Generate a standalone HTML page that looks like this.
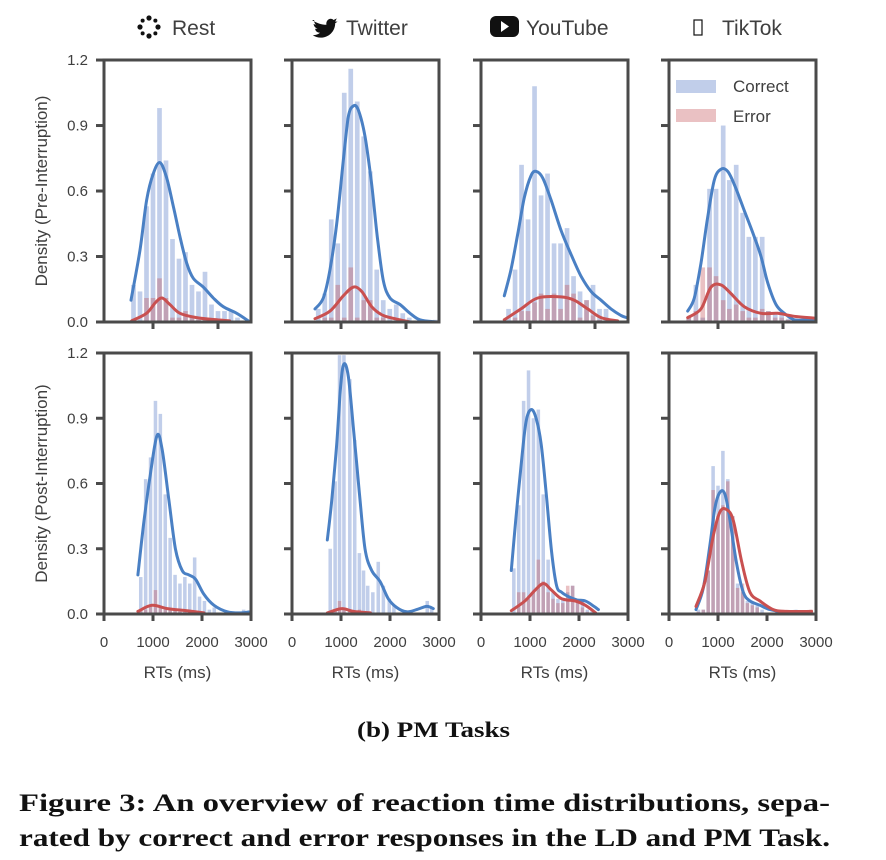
<!DOCTYPE html>
<html><head><meta charset="utf-8"><style>
html,body{margin:0;padding:0;background:#fff;width:886px;height:860px;overflow:hidden}
svg{display:block}
text{font-family:"Liberation Sans",sans-serif;fill:#3f3f3f}
.serif{font-family:"Liberation Serif",serif;font-weight:bold;fill:#111}
</style></head><body>
<svg id="chart" width="886" height="860" viewBox="0 0 886 860"></svg>
<script>
// ---------- data ----------
// Row 1 (Pre-Interruption)
const r1c1Bins=[700,800,900,1000,1100,1200,1300,1400,1500,1600,1700,1800,1900,2000,2100,2200,2300];
const r1c1Correct=[0.17,0.14,0.53,0.68,0.98,0.74,0.38,0.29,0.32,0.17,0.14,0.23,0.08,0.05,0.05,0.05,0.02];
const r1c1Error=[0,0,0.11,0.11,0.2,0.11,0.02,0.02,0.05,0.02,0.01,0.01,0,0,0,0,0];
const r1c1KdeX=[662,800,903,1005,1108,1210,1313,1415,1518,1620,1774,1928,2082,2287,2466];
const r1c1KdeC=[0.10,0.33,0.56,0.68,0.73,0.66,0.53,0.39,0.27,0.20,0.16,0.11,0.07,0.04,0.005];
const r1c1ErrX=[670,900,1040,1140,1260,1415,1670,1980,2180];
const r1c1KdeE=[0.005,0.04,0.09,0.11,0.08,0.04,0.02,0.01,0.005];

const r1c2Bins=[650,750,850,950,1050,1150,1250,1350,1450,1550,1650,1750,1850,1950,2050,2450];
const r1c2Correct=[0.06,0.13,0.47,0.36,1.05,1.16,1.01,0.85,0.69,0.24,0.10,0.06,0.08,0.04,0.02,0.01];
const r1c2Error=[0,0.02,0.02,0.17,0.02,0.25,0.02,0.1,0.1,0.02,0.02,0,0,0,0,0];
const r1c2KdeX=[600,728,831,934,1036,1113,1190,1267,1369,1472,1559,1651,1754,1908,2062,2215,2472];
const r1c2KdeC=[0.06,0.11,0.24,0.45,0.74,0.94,0.99,0.97,0.85,0.63,0.39,0.19,0.11,0.08,0.04,0.01,0];
const r1c2ErrX=[600,831,1036,1190,1318,1472,1651,1908,2062];
const r1c2KdeE=[0.015,0.05,0.12,0.16,0.14,0.07,0.03,0.01,0];

const r1c3Bins=[670,770,870,970,1070,1170,1270,1370,1470,1570,1670,1770,1870,1970,2070,2170];
const r1c3Correct=[0.06,0.24,0.72,0.47,1.08,0.58,0.68,0.36,0.36,0.43,0.21,0.14,0.10,0.17,0.06,0.06];
const r1c3Error=[0,0.02,0.05,0.05,0.09,0.13,0.06,0.13,0.06,0.17,0.13,0.02,0.1,0.03,0.01,0];
const r1c3KdeX=[605,708,810,913,1015,1092,1195,1323,1477,1631,1785,1938,2092,2246,2400,2487];
const r1c3KdeC=[0.12,0.24,0.40,0.57,0.67,0.69,0.66,0.56,0.42,0.31,0.21,0.14,0.10,0.06,0.03,0.02];
const r1c3ErrX=[605,862,1118,1477,1682,1887,2092,2349];
const r1c3KdeE=[0.01,0.06,0.11,0.115,0.10,0.06,0.02,0.005];

const r1c4Bins=[550,660,765,870,970,1080,1175,1280,1380,1475,1575,1680,1775,1880,1980,2080,2180,2480];
const r1c4Correct=[0.02,0.17,0.02,0.61,0.61,0.90,0.65,0.72,0.50,0.39,0.39,0.39,0.05,0.04,0.04,0.015,0.015,0.02];
const r1c4Error=[0.02,0.05,0.25,0.25,0.21,0.1,0.06,0.08,0.05,0.02,0.02,0.06,0.05,0.02,0.02,0.01,0.01,0.01];
const r1c4KdeX=[534,635,738,841,943,1046,1149,1251,1405,1559,1662,1764,1892,2020,2174,2380,2482];
const r1c4KdeC=[0.05,0.11,0.27,0.48,0.65,0.70,0.69,0.63,0.51,0.39,0.30,0.18,0.08,0.04,0.01,0.01,0.01];
const r1c4ErrX=[534,738,892,1046,1200,1405,1662,1918,2174,2482];
const r1c4KdeE=[0.02,0.06,0.16,0.17,0.13,0.07,0.04,0.04,0.026,0.018];

// Row 2 (Post-Interruption)
const r2c1Bins=[750,850,950,1050,1150,1250,1350,1450,1550,1650,1750,1850,1950,2050,2150,2250,2850];
const r2c1Correct=[0.17,0.62,0.72,0.98,0.92,0.55,0.35,0.18,0.14,0.17,0.14,0.26,0.08,0.06,0.02,0.03,0.02];
const r2c1Error=[0.02,0.02,0.04,0.11,0.03,0.02,0.02,0.02,0.01,0.01,0.01,0.01,0,0,0,0,0];
const r2c1KdeX=[691,807,944,1081,1184,1321,1458,1595,1731,1868,2040,2245,2519,2793,2984];
const r2c1KdeC=[0.18,0.41,0.64,0.82,0.76,0.53,0.30,0.20,0.18,0.16,0.09,0.04,0.01,0.005,0.01];
const r2c1ErrX=[691,978,1287,1697,2040];
const r2c1KdeE=[0.012,0.04,0.025,0.015,0.005];

const r2c2Bins=[780,880,970,1060,1180,1280,1375,1460,1545,1650,1760,1865,1985,2080,2760,2850];
const r2c2Correct=[0.3,0.61,1.19,1.19,1.08,0.8,0.28,0.2,0.13,0.1,0.24,0.13,0.07,0.04,0.06,0.03];
const r2c2Error=[0.01,0.02,0.06,0.03,0.02,0.01,0.02,0.01,0,0,0,0,0,0,0,0];
const r2c2KdeX=[721,810,912,994,1061,1150,1252,1374,1490,1626,1796,1966,2136,2340,2544,2748,2884];
const r2c2KdeC=[0.34,0.52,0.78,1.05,1.15,1.09,0.86,0.56,0.30,0.20,0.15,0.07,0.03,0.01,0.02,0.035,0.025];
const r2c2ErrX=[721,1014,1252,1600];
const r2c2KdeE=[0.005,0.025,0.012,0.005];

const r2c3Bins=[670,770,870,970,1070,1170,1270,1370,1470,1570,1670,1770,1870,1970,2070,2170,2270];
const r2c3Correct=[0.21,0.5,0.98,1.12,0.9,0.94,0.55,0.25,0.1,0.07,0.07,0.1,0.13,0.07,0.06,0.02,0.02];
const r2c3Error=[0,0.1,0.1,0.07,0.1,0.25,0.15,0.1,0.07,0.05,0.05,0.13,0.13,0.05,0.03,0.01,0];
const r2c3KdeX=[619,708,813,917,1021,1125,1229,1333,1438,1542,1646,1785,1958,2131,2306,2396];
const r2c3KdeC=[0.20,0.43,0.67,0.88,0.94,0.90,0.78,0.55,0.29,0.13,0.10,0.08,0.065,0.06,0.035,0.02];
const r2c3ErrX=[619,896,1104,1277,1438,1646,1924,2131,2340];
const r2c3KdeE=[0.015,0.06,0.11,0.14,0.11,0.07,0.06,0.04,0.005];

const r2c4Bins=[600,700,800,900,1000,1100,1200,1300,1400,1500,1600,1700,1800,1900,2200,2400,2600,2900];
const r2c4Correct=[0.02,0.02,0.2,0.68,0.59,0.75,0.62,0.45,0.14,0.1,0.06,0.05,0.04,0.02,0,0.01,0.015,0];
const r2c4Error=[0.01,0.02,0.2,0.57,0.45,0.5,0.61,0.45,0.12,0.14,0.05,0.04,0.03,0,0.01,0.015,0,0.02];
const r2c4KdeX=[551,700,837,939,1041,1143,1245,1381,1517,1653,1857,2061,2333,2605,2878];
const r2c4KdeC=[0.02,0.12,0.32,0.49,0.56,0.55,0.43,0.23,0.10,0.06,0.04,0.02,0.01,0.012,0.005];
const r2c4ErrX=[551,734,904,1041,1177,1313,1483,1653,1857,2129,2401,2911];
const r2c4KdeE=[0.035,0.15,0.36,0.47,0.48,0.43,0.24,0.10,0.06,0.02,0.012,0.012];

const yTicks=[0,0.3,0.6,0.9,1.2];
const yTickLabels=["0.0","0.3","0.6","0.9","1.2"];
const xTicksBottom=[0,1000,2000,3000];
const xTickLabels=["0","1000","2000","3000"];
const xTicksTop=[1000,2000];
const columnTitles=["Rest","Twitter","YouTube","TikTok"];
const rowTitles=["Density (Pre-Interruption)","Density (Post-Interruption)"];

// ---------- drawing ----------
const NS="http://www.w3.org/2000/svg";
const svg=document.getElementById('chart');
function mk(tag,attrs,parent){const e=document.createElementNS(NS,tag);for(const k in attrs)e.setAttribute(k,attrs[k]);(parent||svg).appendChild(e);return e;}
const colLeft=[104,292,481,669], W=147;
const rows=[{top:60,bot:322,scaleY:218.3,xf:(l,v)=>l+49+(v-1000)*0.065,bw:6.5},
            {top:353,bot:614,scaleY:217.5,xf:(l,v)=>l+v*0.049,bw:4.9}];
const panels=[
 [[r1c1Bins,r1c1Correct,r1c1Error,r1c1KdeX,r1c1KdeC,r1c1ErrX,r1c1KdeE],
  [r1c2Bins,r1c2Correct,r1c2Error,r1c2KdeX,r1c2KdeC,r1c2ErrX,r1c2KdeE],
  [r1c3Bins,r1c3Correct,r1c3Error,r1c3KdeX,r1c3KdeC,r1c3ErrX,r1c3KdeE],
  [r1c4Bins,r1c4Correct,r1c4Error,r1c4KdeX,r1c4KdeC,r1c4ErrX,r1c4KdeE]],
 [[r2c1Bins,r2c1Correct,r2c1Error,r2c1KdeX,r2c1KdeC,r2c1ErrX,r2c1KdeE],
  [r2c2Bins,r2c2Correct,r2c2Error,r2c2KdeX,r2c2KdeC,r2c2ErrX,r2c2KdeE],
  [r2c3Bins,r2c3Correct,r2c3Error,r2c3KdeX,r2c3KdeC,r2c3ErrX,r2c3KdeE],
  [r2c4Bins,r2c4Correct,r2c4Error,r2c4KdeX,r2c4KdeC,r2c4ErrX,r2c4KdeE]]];

function smooth(pts){
  if(pts.length<2)return "";
  let d="M"+pts[0][0].toFixed(1)+","+pts[0][1].toFixed(1);
  for(let i=0;i<pts.length-1;i++){
    const p0=pts[Math.max(0,i-1)],p1=pts[i],p2=pts[i+1],p3=pts[Math.min(pts.length-1,i+2)];
    const c1=[p1[0]+(p2[0]-p0[0])/6,p1[1]+(p2[1]-p0[1])/6];
    const c2=[p2[0]-(p3[0]-p1[0])/6,p2[1]-(p3[1]-p1[1])/6];
    d+="C"+c1.map(v=>v.toFixed(1))+" "+c2.map(v=>v.toFixed(1))+" "+p2.map(v=>v.toFixed(1));
  }
  return d;
}
const defs=mk('defs',{});
const AX="#4a4a4a";
rows.forEach((R,ri)=>{
  colLeft.forEach((L,ci)=>{
    const P=panels[ri][ci];
    const xs=v=>R.xf(L,v), ys=d=>R.bot-d*R.scaleY;
    const cp=mk('clipPath',{id:'c'+ri+ci},defs);
    mk('rect',{x:L,y:R.top,width:W,height:R.bot-R.top},cp);
    const g=mk('g',{'clip-path':'url(#c'+ri+ci+')'});
    
    
    const bw=R.bw*0.72;
    P[0].forEach((b,i)=>{
      const h=P[1][i]; if(h<=0)return;
      const r=mk('rect',{x:xs(b)-bw/2,y:ys(h),width:bw,height:R.bot-ys(h),fill:'rgba(76,114,196,0.35)'},g);
      
      
    });
    P[0].forEach((b,i)=>{
      const h=P[2][i]; if(h<=0)return;
      const r=mk('rect',{x:xs(b)-bw/2,y:ys(h),width:bw,height:R.bot-ys(h),fill:'rgba(196,78,82,0.35)'},g);
      
      
    });
    const lc=mk('path',{d:smooth(P[3].map((v,i)=>[xs(v),ys(P[4][i])])),fill:'none',stroke:'#4a80c4','stroke-width':3,'stroke-linecap':'round'},g);
    
    
    const le=mk('path',{d:smooth(P[5].map((v,i)=>[xs(v),ys(P[6][i])])),fill:'none',stroke:'#c95050','stroke-width':3,'stroke-linecap':'round'},g);
    
    
    const fr=mk('rect',{x:L,y:R.top,width:W,height:R.bot-R.top,fill:'none',stroke:AX,'stroke-width':3});
    
    
    yTicks.forEach((t,i)=>{
      mk('line',{x1:L-8,x2:L,y1:ys(t),y2:ys(t),stroke:AX,'stroke-width':3});
      if(ci===0){
        const tx=mk('text',{x:L-16,y:ys(t)+5,'text-anchor':'end','font-size':15});
        tx.textContent=yTickLabels[i];
        
        
      }
    });
    const xt=ri===0?xTicksTop:xTicksBottom;
    xt.forEach(t=>mk('line',{x1:xs(t),x2:xs(t),y1:R.bot,y2:R.bot+7,stroke:AX,'stroke-width':3}));
    if(ri===1){
      xTicksBottom.forEach((t,i)=>{
        const tx=mk('text',{x:xs(t),y:647,'text-anchor':'middle','font-size':15});
        tx.textContent=xTickLabels[i];
        
        
      });
      const xl=mk('text',{x:L+W/2,y:678,'text-anchor':'middle','font-size':17});
      xl.textContent="RTs (ms)";
      
      
    }
  });
  const yt=mk('text',{x:0,y:0,'text-anchor':'middle','font-size':17,transform:'translate(47,'+((R.top+R.bot)/2)+') rotate(-90)'});
  yt.textContent=rowTitles[ri];
  
  
});
const titleX=[172,346,526,722];
columnTitles.forEach((t,i)=>{
  const tx=mk('text',{x:titleX[i],y:35,'font-size':21,fill:'#111'});
  tx.textContent=t;
  
  
});
const ig=mk('g',{});


for(let k=0;k<8;k++){const a=k*Math.PI/4;mk('circle',{cx:149+9*Math.cos(a),cy:27+9*Math.sin(a),r:k%2?2:2.6,fill:'#111'},ig);}
const tw=mk('path',{d:'M312,21 c6,4 12,6 18,6 c-1,-6 5,-10 9,-6 l4,-2 l-2,4 l3,0 l-3,2 c0,10 -8,18 -18,18 c-4,0 -7,-1 -10,-3 c4,0 7,-1 9,-3 c-3,0 -6,-2 -6,-5 l3,0 c-3,-1 -5,-4 -5,-6 l3,1 c-2,-2 -3,-5 -2,-6 z',fill:'#111',transform:'translate(312,16) scale(0.8) translate(-312,-16)'});


const yb=mk('g',{});


mk('rect',{x:490,y:16,width:29,height:21,rx:6,fill:'#111'},yb);
mk('path',{d:'M501,21 L509,26.5 L501,32 Z',fill:'#fff'},yb);
const tk=mk('rect',{x:694,y:20,width:8,height:15,fill:'none',stroke:'#111','stroke-width':1.2});


const lg=mk('g',{});


mk('rect',{x:676,y:80,width:40,height:13,fill:'rgba(76,114,196,0.35)'},lg);
mk('rect',{x:676,y:109,width:40,height:13,fill:'rgba(196,78,82,0.35)'},lg);
const l1=mk('text',{x:733,y:92,'font-size':17},lg);l1.textContent="Correct";


const l2=mk('text',{x:733,y:122,'font-size':17},lg);l2.textContent="Error";


const sc=mk('text',{x:357,y:737,'font-size':22,class:'serif',textLength:153,lengthAdjust:'spacingAndGlyphs'});
sc.textContent="(b) PM Tasks";


const c1=mk('text',{x:19,y:811,'font-size':25,class:'serif',textLength:811,lengthAdjust:'spacingAndGlyphs'});
c1.textContent="Figure 3: An overview of reaction time distributions, sepa-";


const c2=mk('text',{x:19,y:846,'font-size':25,class:'serif',textLength:811,lengthAdjust:'spacingAndGlyphs'});
c2.textContent="rated by correct and error responses in the LD and PM Task.";


</script>
</body></html>
